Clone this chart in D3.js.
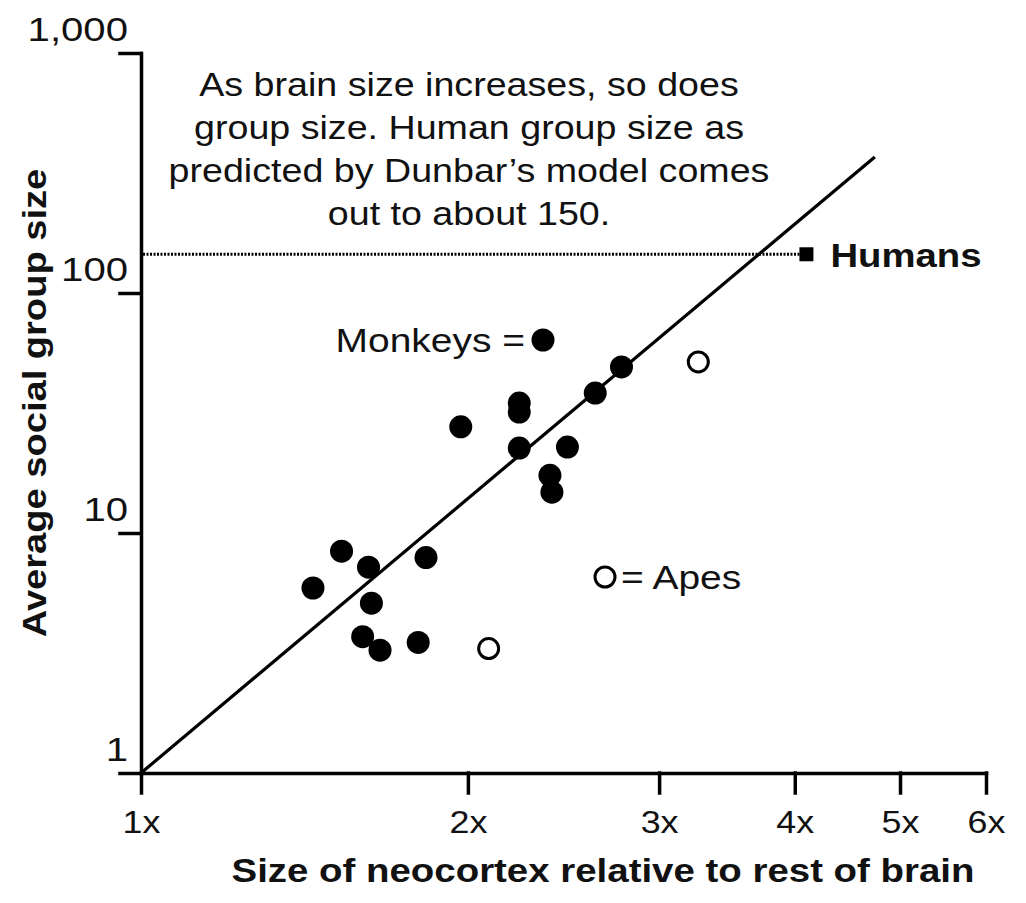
<!DOCTYPE html>
<html>
<head>
<meta charset="utf-8">
<script src="https://cdn.jsdelivr.net/npm/d3@7"></script>
<style>
  body { margin: 0; background: #fff; }
  svg { font-family: "Liberation Sans", Arial, Helvetica, sans-serif; }
</style>
</head>
<body>
<svg width="1026" height="903"></svg>
<script>
// values (x = neocortex ratio, y = group size)
var monkeyX = [2.77, 2.62, 2.23, 2.23, 1.97, 2.23, 2.47, 2.38, 2.39, 1.53, 1.62, 1.83, 1.44, 1.63, 1.60, 1.66, 1.80];
var monkeyY = [49.2, 38.3, 34.8, 31.9, 27.7, 22.6, 22.8, 17.4, 14.8, 8.4, 7.2, 7.9, 5.9, 5.1, 3.7, 3.25, 3.5];
var apeX = [3.26, 2.09];
var apeY = [51.6, 3.3];
var humanX = [4.1];
var humanY = [145];
var trendX = [1, 4.74];
var trendY = [1, 369];
var xTicks = [1, 2, 3, 4, 5, 6];
var yTicks = [1, 10, 100, 1000];
var note = ["As brain size increases, so does",
            "group size. Human group size as",
            "predicted by Dunbar\u2019s model comes",
            "out to about 150."];

var svg = d3.select('svg');
var font = '"Liberation Sans", Arial, Helvetica, sans-serif';

// the picture's type is a little wider than the font, so stretch it
var stretch = function(sel, k) {
  k = k || 1.12;
  sel.each(function() {
    var w = this.getComputedTextLength();
    d3.select(this).attr('textLength', w * k).attr('lengthAdjust', 'spacingAndGlyphs');
  });
};

var x = d3.scaleLog().domain([1, 6]).range([141, 986]);
var y = d3.scaleLog().domain([1, 1000]).range([773, 53]);

// axes
var xAxis = svg.append('g')
  .attr('transform', 'translate(0,' + y(1) + ')')
  .call(d3.axisBottom(x).tickValues(xTicks).tickFormat(function(d) { return d + 'x'; })
    .tickSize(20).tickSizeOuter(0));

var yAxis = svg.append('g')
  .attr('transform', 'translate(' + x(1) + ',0)')
  .call(d3.axisLeft(y).tickValues(yTicks).tickFormat(d3.format(','))
    .tickSize(21).tickSizeOuter(0));

svg.selectAll('.domain, .tick line')
  .attr('stroke', '#000').attr('stroke-width', 3.5).attr('stroke-linecap', 'square');

xAxis.attr('font-family', font);
yAxis.attr('font-family', font);

xAxis.selectAll('.tick text')
  .attr('y', 60).attr('dy', 0)
  .attr('font-size', 32).attr('fill', '#111')
  .call(stretch, 1.12);

yAxis.selectAll('.tick text')
  .attr('x', -13).attr('y', -13).attr('dy', 0)
  .attr('font-size', 34).attr('fill', '#111')
  .call(stretch, 1.18);

// dotted line out to humans
svg.append('line')
  .attr('x1', x(1) + 2).attr('x2', x(humanX[0]))
  .attr('y1', y(humanY[0])).attr('y2', y(humanY[0]))
  .attr('stroke', '#000').attr('stroke-width', 3)
  .attr('stroke-dasharray', '2 1.5');

// trend line
var trend = trendX.map(function(d, i) { return [d, trendY[i]]; });
svg.append('path')
  .datum(trend)
  .attr('d', d3.line().x(function(d) { return x(d[0]); }).y(function(d) { return y(d[1]); }))
  .attr('stroke', '#000').attr('stroke-width', 3.2).attr('fill', 'none');

// monkeys
svg.selectAll('.monkey')
  .data(monkeyX.map(function(d, i) { return [d, monkeyY[i]]; }))
  .enter().append('circle')
  .attr('class', 'monkey')
  .attr('cx', function(d) { return x(d[0]); })
  .attr('cy', function(d) { return y(d[1]); })
  .attr('r', 11.5)
  .attr('fill', '#000');

// apes
svg.selectAll('.ape')
  .data(apeX.map(function(d, i) { return [d, apeY[i]]; }))
  .enter().append('circle')
  .attr('class', 'ape')
  .attr('cx', function(d) { return x(d[0]); })
  .attr('cy', function(d) { return y(d[1]); })
  .attr('r', 10)
  .attr('fill', '#fff').attr('stroke', '#000').attr('stroke-width', 3);

// humans
svg.selectAll('.human')
  .data(humanX.map(function(d, i) { return [d, humanY[i]]; }))
  .enter().append('rect')
  .attr('class', 'human')
  .attr('x', function(d) { return x(d[0]) - 7; })
  .attr('y', function(d) { return y(d[1]) - 7; })
  .attr('width', 14).attr('height', 14)
  .attr('fill', '#000');

svg.append('text')
  .attr('x', x(humanX[0]) + 24).attr('y', y(humanY[0]) + 13)
  .attr('font-size', 33).attr('font-weight', 'bold').attr('fill', '#111')
  .text('Humans').call(stretch, 1.16);

// legend
svg.append('text')
  .attr('x', 525).attr('y', 352).attr('text-anchor', 'end')
  .attr('font-size', 33).attr('fill', '#111')
  .text('Monkeys =').call(stretch, 1.18);
svg.append('circle').attr('cx', 543).attr('cy', 340).attr('r', 11.5).attr('fill', '#000');

svg.append('circle').attr('cx', 605).attr('cy', 577).attr('r', 10)
  .attr('fill', '#fff').attr('stroke', '#000').attr('stroke-width', 3);
svg.append('text')
  .attr('x', 621).attr('y', 589)
  .attr('font-size', 33).attr('fill', '#111')
  .text('= Apes').call(stretch, 1.18);

// note
svg.append('g').selectAll('text')
  .data(note)
  .enter().append('text')
  .attr('x', 469)
  .attr('y', function(d, i) { return 96 + i * 43; })
  .attr('text-anchor', 'middle')
  .attr('font-size', 33).attr('fill', '#111')
  .text(function(d) { return d; })
  .call(stretch, 1.14);

// axis titles
svg.append('text')
  .attr('x', 603).attr('y', 882)
  .attr('text-anchor', 'middle')
  .attr('font-size', 34).attr('font-weight', 'bold').attr('fill', '#111')
  .text('Size of neocortex relative to rest of brain')
  .call(stretch, 1.13);

svg.append('text')
  .attr('transform', 'translate(46,403) rotate(-90)')
  .attr('text-anchor', 'middle')
  .attr('font-size', 34).attr('font-weight', 'bold').attr('fill', '#111')
  .text('Average social group size')
  .call(stretch, 1.12);
</script>
</body>
</html>
